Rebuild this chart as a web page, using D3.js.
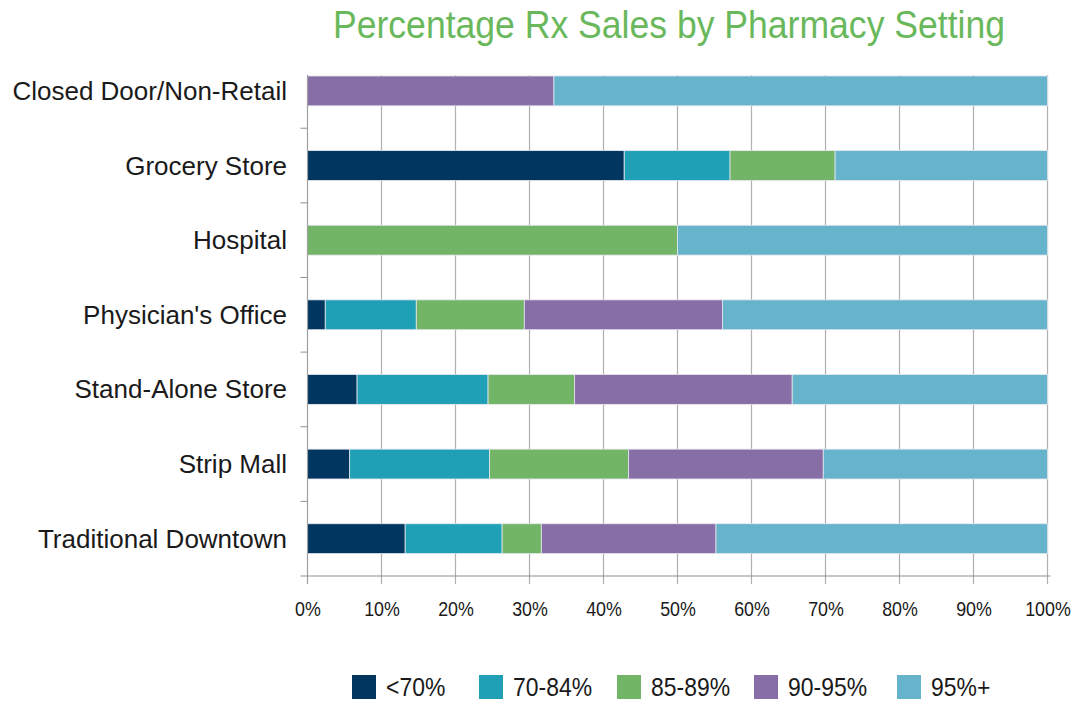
<!DOCTYPE html>
<html>
<head>
<meta charset="utf-8">
<title>Percentage Rx Sales by Pharmacy Setting</title>
<script src="https://d3js.org/d3.v7.min.js"></script>
<style>
body {margin:0; background:white;}
svg {display:block; font-family:"Liberation Sans",Arial,sans-serif;}
.cat {font-size:26px; fill:#1a1a1a;}
</style>
</head>
<body>
<svg width="1082" height="702"></svg>
<script>
// data
var categories = ["Closed Door/Non-Retail", "Grocery Store", "Hospital", "Physician's Office", "Stand-Alone Store", "Strip Mall", "Traditional Downtown"];
var seriesNames = ["<70%", "70-84%", "85-89%", "90-95%", "95%+"];
var lt70   = [0,    42.8, 0,  2.4,  6.7,  5.7,  13.2];
var s70_84 = [0,    14.3, 0,  12.3, 17.7, 18.9, 13.1];
var s85_89 = [0,    14.2, 50, 14.6, 11.7, 18.8, 5.3];
var s90_95 = [33.3, 0,    0,  26.8, 29.4, 26.3, 23.6];
var s95p   = [66.7, 28.7, 50, 43.9, 34.5, 30.3, 44.8];
var xTicks = [0, 10, 20, 30, 40, 50, 60, 70, 80, 90, 100];
var colors = ["#00365f", "#1fa0b6", "#73b566", "#876ea6", "#65b4cc"];

var series = [lt70, s70_84, s85_89, s90_95, s95p];
var rows = categories.map(function(c, i) {
  var r = {cat: c};
  seriesNames.forEach(function(s, j) { r[s] = series[j][i]; });
  return r;
});
var stacked = d3.stack().keys(seriesNames)(rows);

var svg = d3.select("svg");
var plotLeft = 307.5, plotRight = 1047.5, bandTop = 53.6, plotBottom = 576, plotTop = 75;

var x = d3.scaleLinear().domain([0, 100]).range([plotLeft, plotRight]);
var y = d3.scaleBand().domain(categories).range([bandTop, plotBottom]).paddingInner(0.6).paddingOuter(0.3);
var color = d3.scaleOrdinal().domain(seriesNames).range(colors);

// title (squeezed to the original width)
svg.append("text")
  .attr("x", 333).attr("y", 38)
  .attr("textLength", 672)
  .attr("lengthAdjust", "spacingAndGlyphs")
  .style("font-size", "38px")
  .style("fill", "#6ab85c")
  .text("Percentage Rx Sales by Pharmacy Setting");

// vertical gridlines + ticks below the axis
svg.append("g").selectAll("line")
  .data(xTicks.slice(1))
  .enter().append("line")
  .attr("x1", function(d) { return x(d); })
  .attr("x2", function(d) { return x(d); })
  .attr("y1", plotTop)
  .attr("y2", plotBottom + 8)
  .attr("stroke", "#b0b0b0")
  .attr("stroke-width", 1.2);

// bars
svg.append("g").selectAll("g")
  .data(stacked)
  .enter().append("g")
  .attr("fill", function(d) { return color(d.key); })
  .selectAll("rect")
  .data(function(d) { return d; })
  .enter().append("rect")
  .attr("x", function(d) { return x(d[0]); })
  .attr("y", function(d) { return y(d.data.cat); })
  .attr("width", function(d) { return x(d[1]) - x(d[0]); })
  .attr("height", y.bandwidth())
  .attr("stroke", "#e6e6ee")
  .attr("stroke-width", 0.8);

// left axis line and category ticks
svg.append("line")
  .attr("x1", plotLeft).attr("x2", plotLeft)
  .attr("y1", plotTop).attr("y2", plotBottom + 8)
  .attr("stroke", "#a0a0a0").attr("stroke-width", 1.2);
svg.append("g").selectAll("line")
  .data(categories.slice(1))
  .enter().append("line")
  .attr("x1", plotLeft - 7).attr("x2", plotLeft)
  .attr("y1", function(d) { return y(d) - y.step() * y.paddingInner() / 2; })
  .attr("y2", function(d) { return y(d) - y.step() * y.paddingInner() / 2; })
  .attr("stroke", "#909090").attr("stroke-width", 1);

// bottom axis
var xAxis = d3.axisBottom(x)
  .tickValues(xTicks)
  .tickSize(0)
  .tickPadding(25)
  .tickFormat(function(d) { return d + "%"; });
var gx = svg.append("g")
  .attr("transform", "translate(0," + plotBottom + ")")
  .call(xAxis);
gx.select(".domain").remove();
gx.selectAll("text")
  .attr("transform", "scale(0.87,1)")
  .style("font-family", "'Liberation Sans',Arial,sans-serif")
  .style("font-size", "20.5px")
  .style("fill", "#1a1a1a");
svg.append("line")
  .attr("x1", plotLeft - 7).attr("x2", plotRight + 3)
  .attr("y1", plotBottom).attr("y2", plotBottom)
  .attr("stroke", "#909090").attr("stroke-width", 1.2);

// category labels
svg.append("g").selectAll("text")
  .data(categories)
  .enter().append("text")
  .attr("class", "cat")
  .attr("x", 287)
  .attr("y", function(d) { return y(d) + y.bandwidth() / 2 + 9; })
  .attr("text-anchor", "end")
  .text(function(d) { return d; });

// legend
var legendX = [352, 479, 617, 754, 897];
var lg = svg.append("g").selectAll("g")
  .data(seriesNames)
  .enter().append("g")
  .attr("transform", function(d, i) { return "translate(" + legendX[i] + ",675)"; });
lg.append("rect")
  .attr("width", 24).attr("height", 24)
  .attr("fill", function(d) { return color(d); });
lg.append("text")
  .attr("transform", "translate(34,21) scale(0.9,1)")
  .style("font-size", "25.5px")
  .style("fill", "#1a1a1a")
  .text(function(d) { return d; });
</script>
</body>
</html>
